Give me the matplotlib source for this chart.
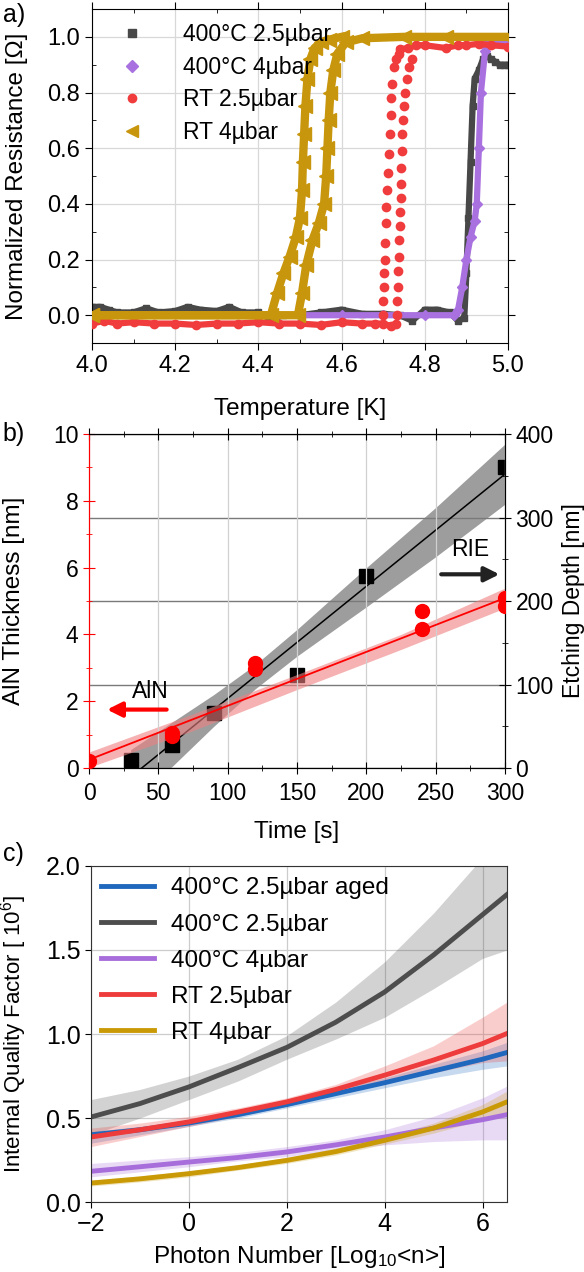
#!/usr/bin/env python3
import numpy as np
import matplotlib
matplotlib.use('Agg')
import matplotlib.pyplot as plt
from matplotlib.ticker import MultipleLocator

plt.rcParams['font.family'] = ['Liberation Sans', 'DejaVu Sans']
plt.rcParams['mathtext.fontset'] = 'custom'
plt.rcParams['mathtext.rm'] = 'Liberation Sans'
plt.rcParams['mathtext.it'] = 'Liberation Sans'

# ---- panel a: R(T) curves ----
gray_T = [4.00, 4.02, 4.04, 4.06, 4.10, 4.13, 4.16, 4.20, 4.23, 4.26, 4.30,
          4.33, 4.36, 4.40, 4.43, 4.46, 4.50, 4.55, 4.60, 4.65, 4.70, 4.74,
          4.77, 4.80, 4.83, 4.86, 4.88, 4.895, 4.90, 4.905, 4.91, 4.915,
          4.92, 4.93, 4.94, 4.95, 4.96, 4.97, 4.98, 4.99, 5.00]
gray_R = [0.03, 0.03, 0.02, 0.01, 0.01, 0.025, 0.01, 0.015, 0.03, 0.02, 0.015,
          0.03, 0.01, 0.01, -0.015, 0.0, 0.0, 0.01, 0.02, 0.005, 0.005, 0.0,
          -0.02, 0.02, 0.02, 0.01, -0.02, -0.01, 0.15, 0.35, 0.55, 0.75,
          0.85, 0.88, 0.92, 0.93, 0.92, 0.91, 0.90, 0.90, 0.90]

purple_T = [4.50, 4.60, 4.70, 4.80, 4.87, 4.88, 4.89, 4.90, 4.91, 4.92,
            4.925, 4.93, 4.935, 4.945, 4.95, 4.97, 5.00]
purple_R = [0.0, 0.0, 0.0, 0.0, 0.0, 0.02, 0.1, 0.2, 0.28, 0.34,
            0.4, 0.6, 0.8, 0.95, 0.98, 0.98, 0.98]

red_low_T = [4.00, 4.03, 4.06, 4.10, 4.15, 4.20, 4.25, 4.30, 4.35, 4.40,
             4.45, 4.50, 4.55, 4.60, 4.65, 4.68, 4.70, 4.72, 4.73]
red_low_R = [-0.03, -0.02, -0.03, -0.025, -0.03, -0.03, -0.035, -0.03, -0.03,
             -0.025, -0.03, -0.03, -0.035, -0.025, -0.03, -0.03, -0.03, -0.04,
             -0.03]
red_up1_T = [4.700, 4.700, 4.701, 4.702, 4.704, 4.705, 4.707, 4.708, 4.710,
             4.712, 4.714, 4.716, 4.718, 4.720, 4.722, 4.725, 4.730, 4.737]
red_up1_R = [0.0, 0.05, 0.10, 0.15, 0.20, 0.26, 0.33, 0.39, 0.45, 0.51, 0.58,
             0.65, 0.72, 0.78, 0.83, 0.89, 0.92, 0.94]
red_up2_T = [4.733, 4.734, 4.735, 4.736, 4.738, 4.739, 4.740, 4.741, 4.742,
             4.743, 4.744, 4.745, 4.746, 4.748, 4.750, 4.753, 4.757, 4.763,
             4.770]
red_up2_R = [0.0, 0.05, 0.10, 0.16, 0.21, 0.27, 0.32, 0.37, 0.42, 0.47, 0.53,
             0.59, 0.65, 0.70, 0.75, 0.80, 0.85, 0.89, 0.92]
red_high_T = [4.74, 4.76, 4.78, 4.80, 4.85, 4.88, 4.90, 4.93, 4.96, 5.00]
red_high_R = [0.955, 0.96, 0.97, 0.97, 0.96, 0.97, 0.97, 0.975, 0.97, 0.965]

gold1_T = [4.00, 4.43, 4.445, 4.46, 4.475, 4.49, 4.50, 4.505, 4.507, 4.51,
           4.513, 4.518, 4.525, 4.535, 4.55, 4.57, 4.60]
gold1_R = [0.0, 0.0, 0.08, 0.15, 0.21, 0.28, 0.35, 0.45, 0.55, 0.65, 0.75,
           0.85, 0.92, 0.96, 0.98, 0.99, 1.0]
gold2_T = [4.00, 4.495, 4.505, 4.515, 4.53, 4.545, 4.558, 4.563, 4.566,
           4.569, 4.573, 4.58, 4.59, 4.61, 4.65, 4.75, 4.85, 5.00]
gold2_R = [0.0, 0.0, 0.08, 0.18, 0.27, 0.33, 0.40, 0.50, 0.60, 0.70, 0.80,
           0.88, 0.94, 0.98, 0.995, 1.0, 1.0, 1.0]

# ---- panel b: thickness / etching depth vs time ----
rie_t = [30, 60, 90, 150, 200, 300]
rie_depth = [10, 28, 66, 112, 230, 360]
rie_fit_t = [38, 300]
rie_fit_d = [0, 352]
rie_band_t = [30, 60, 90, 120, 150, 200, 250, 300]
rie_band_hi = [22, 55, 88, 124, 166, 240, 312, 388]
rie_band_lo = [-40, 2, 50, 95, 134, 193, 253, 316]

aln_t = [0, 60, 60, 120, 120, 240, 240, 300, 300]
aln_nm = [0.2, 0.95, 1.05, 2.95, 3.15, 4.15, 4.7, 4.85, 5.1]
aln_fit_t = [0, 300]
aln_fit_nm = [0.25, 5.09]
aln_band_t = [0, 75, 150, 225, 300]
aln_band_hi = [0.48, 1.62, 2.80, 4.00, 5.39]
aln_band_lo = [0.02, 1.12, 2.35, 3.55, 4.79]

# ---- panel c: quality factor vs photon number ----
photon = [-2, -1, 0, 1, 2, 3, 4, 5, 6, 6.5]
q_series = {
    '400°C 2.5µbar aged': dict(
        q=[0.40, 0.43, 0.47, 0.52, 0.58, 0.645, 0.71, 0.78, 0.85, 0.89],
        hi=[0.42, 0.45, 0.49, 0.54, 0.60, 0.67, 0.74, 0.82, 0.90, 0.95],
        lo=[0.35, 0.40, 0.45, 0.50, 0.56, 0.62, 0.68, 0.74, 0.79, 0.81],
        color='#1f68bd'),
    '400°C 2.5µbar': dict(
        q=[0.506, 0.586, 0.685, 0.80, 0.92, 1.07, 1.25, 1.47, 1.71, 1.83],
        hi=[0.61, 0.67, 0.75, 0.85, 0.99, 1.19, 1.43, 1.72, 2.05, 2.25],
        lo=[0.40, 0.50, 0.61, 0.72, 0.85, 0.97, 1.10, 1.27, 1.45, 1.50],
        color='#4d4d4d'),
    '400°C 4µbar': dict(
        q=[0.183, 0.21, 0.238, 0.265, 0.298, 0.34, 0.387, 0.44, 0.49, 0.52],
        hi=[0.23, 0.25, 0.27, 0.295, 0.33, 0.37, 0.43, 0.51, 0.62, 0.69],
        lo=[0.15, 0.18, 0.21, 0.245, 0.27, 0.31, 0.34, 0.36, 0.37, 0.37],
        color='#a76ddb'),
    'RT 2.5µbar': dict(
        q=[0.387, 0.43, 0.477, 0.535, 0.596, 0.67, 0.755, 0.845, 0.943, 1.003],
        hi=[0.44, 0.47, 0.51, 0.56, 0.62, 0.70, 0.81, 0.93, 1.10, 1.19],
        lo=[0.33, 0.39, 0.45, 0.51, 0.57, 0.64, 0.71, 0.77, 0.83, 0.84],
        color='#ee3b3b'),
    'RT 4µbar': dict(
        q=[0.113, 0.138, 0.169, 0.205, 0.248, 0.30, 0.367, 0.44, 0.536, 0.596],
        hi=[0.13, 0.155, 0.185, 0.22, 0.265, 0.32, 0.39, 0.47, 0.58, 0.66],
        lo=[0.095, 0.12, 0.15, 0.19, 0.23, 0.28, 0.345, 0.41, 0.49, 0.53],
        color='#c99a06'),
}

GRAY = '#484848'
PURPLE = '#a970e0'
RED = '#f03c3c'
GOLD = '#c8960c'

fig = plt.figure(figsize=(5.84, 12.72), dpi=100)

# ================= a) =================
ax = fig.add_axes([0.1575, 0.7303, 0.7123, 0.2626])
ax.plot(gray_T, gray_R, color=GRAY, lw=4.5, marker='s', ms=5, zorder=2)
ax.plot(purple_T, purple_R, color=PURPLE, lw=4.5, marker='D', ms=5, zorder=3)
ax.plot(red_low_T, red_low_R, color=RED, lw=4.5, marker='o', ms=6, zorder=4)
ax.plot(red_high_T, red_high_R, color=RED, lw=4.5, marker='o', ms=6, zorder=4)
ax.plot(red_up1_T, red_up1_R, color=RED, ls='none', marker='o', ms=6, zorder=4)
ax.plot(red_up2_T, red_up2_R, color=RED, ls='none', marker='o', ms=6, zorder=4)
ax.plot(gold1_T, gold1_R, color=GOLD, lw=6, marker='<', ms=10, zorder=5)
ax.plot(gold2_T, gold2_R, color=GOLD, lw=6, marker='<', ms=10, zorder=5)

# legend handles: markers only
h = [ax.plot([], [], ls='none', marker=m, color=c, ms=ms)[0]
     for m, c, ms in [('s', GRAY, 6), ('D', PURPLE, 6), ('o', RED, 6),
                      ('<', GOLD, 8)]]
ax.legend(h, ['400°C 2.5µbar', '400°C 4µbar', 'RT 2.5µbar', 'RT 4µbar'],
          loc='upper left', frameon=False, fontsize=16.5, labelspacing=0.42,
          handletextpad=1.2, borderaxespad=0.0, bbox_to_anchor=(0.02, 0.985))

ax.set_xlim(4.0, 5.0)
ax.set_ylim(-0.1, 1.1)
ax.set_xticks(np.arange(4.0, 5.01, 0.2))
ax.set_yticks(np.arange(0.0, 1.01, 0.2))
ax.xaxis.set_minor_locator(MultipleLocator(0.1))
ax.yaxis.set_minor_locator(MultipleLocator(0.1))
ax.grid(True, color='#d8d8d8', lw=0.9, zorder=0)
ax.set_axisbelow(True)
ax.tick_params(which='both', top=True, right=True, labelsize=17)
ax.tick_params(which='major', direction='out', length=5)
ax.tick_params(which='minor', direction='in', length=3)
ax.set_xlabel('Temperature [K]', fontsize=17.5)
ax.set_ylabel('Normalized Resistance [Ω]', fontsize=17.5)
ax.xaxis.set_label_coords(0.5, -0.165)
ax.yaxis.set_label_coords(-0.155, 0.5)
fig.text(0.005, 0.998, 'a)', fontsize=18, va='top')

# ================= b) =================
axb = fig.add_axes([0.1524, 0.3962, 0.7123, 0.2626])
axr = axb.twinx()

axr.fill_between(rie_band_t, rie_band_lo, rie_band_hi, color='#8c8c8c',
                 alpha=0.85, lw=0, zorder=1)
axr.plot(rie_fit_t, rie_fit_d, color='black', lw=1.1, zorder=2)
axr.plot(rie_t, rie_depth, ls='none', marker='s', ms=10, color='black',
         zorder=3)
axr.set_ylim(0, 400)
axr.set_yticks([0, 100, 200, 300, 400])
axr.yaxis.set_minor_locator(MultipleLocator(50))
axr.grid(True, axis='y', color='#7a7a7a', lw=1.0)
axr.tick_params(which='both', direction='inout', labelsize=16.5)
axr.tick_params(which='major', length=8)
axr.tick_params(which='minor', length=5)
axr.set_ylabel('Etching Depth [nm]', fontsize=16.5)
axr.yaxis.set_label_coords(1.138, 0.5)

axb.fill_between(aln_band_t, aln_band_lo, aln_band_hi, color='#f08080',
                 alpha=0.6, lw=0, zorder=1)
axb.plot(aln_fit_t, aln_fit_nm, color='red', lw=1.3, zorder=2)
axb.set_zorder(axr.get_zorder() + 1)
axb.patch.set_visible(False)
axb.plot(aln_t, aln_nm, ls='none', marker='o', ms=10, color='red', zorder=3)

axb.set_xlim(0, 300)
axb.set_ylim(0, 10)
axb.set_xticks(np.arange(0, 301, 50))
axb.xaxis.set_minor_locator(MultipleLocator(25))
axb.set_yticks(np.arange(0, 11, 2))
axb.yaxis.set_minor_locator(MultipleLocator(1))
axb.grid(True, axis='x', color='#d0d0d0', lw=0.9)
axr.set_xlim(0, 300)
axb.tick_params(which='both', direction='inout', labelsize=16.5, top=True)
axb.tick_params(axis='x', which='major', pad=6)
axb.tick_params(axis='y', which='both', color='red')
axb.tick_params(which='major', length=8)
axb.tick_params(which='minor', length=5)
axb.spines['left'].set_color('red')
axr.spines['left'].set_color('red')
axb.set_xlabel('Time [s]', fontsize=17.5)
axb.set_ylabel('AlN Thickness [nm]', fontsize=17.5)
axb.xaxis.set_label_coords(0.5, -0.16)
axb.yaxis.set_label_coords(-0.155, 0.5)

axb.annotate('', xy=(11, 1.75), xytext=(58, 1.75),
             arrowprops=dict(arrowstyle='-|>', color='red', lw=3,
                             mutation_scale=22))
axb.text(44, 2.3, 'AlN', fontsize=16.5, ha='center', va='center')
axb.annotate('', xy=(298, 5.8), xytext=(252, 5.8),
             arrowprops=dict(arrowstyle='-|>', color='#222222', lw=3,
                             mutation_scale=22))
axb.text(275, 6.55, 'RIE', fontsize=16.5, ha='center', va='center')
fig.text(0.005, 0.668, 'b)', fontsize=18, va='top')

# ================= c) =================
axc = fig.add_axes([0.1558, 0.0550, 0.7123, 0.2642])
for name, s in q_series.items():
    axc.fill_between(photon, s['lo'], s['hi'], color=s['color'], alpha=0.25,
                     lw=0)
for name, s in q_series.items():
    axc.plot(photon, s['q'], color=s['color'], lw=3.5, label=name)
axc.legend(loc='upper left', frameon=False, fontsize=17.5, handlelength=2.2,
           handletextpad=0.7, labelspacing=0.58, borderaxespad=0.0,
           bbox_to_anchor=(0.0, 0.995))
axc.set_xlim(-2, 6.5)
axc.set_ylim(0, 2.0)
axc.set_xticks([-2, 0, 2, 4, 6])
axc.set_yticks([0.0, 0.5, 1.0, 1.5, 2.0])
axc.grid(True, color='#cccccc', lw=0.9)
axc.set_axisbelow(True)
axc.tick_params(labelsize=18, direction='out', length=4)
for sp in axc.spines.values():
    sp.set_color('#333333')
axc.set_xlabel('Photon Number [Log$_{10}$<n>]', fontsize=17.5)
axc.set_ylabel('Internal Quality Factor [ 10$^{6}$]', fontsize=16)
axc.xaxis.set_label_coords(0.5, -0.125)
axc.yaxis.set_label_coords(-0.148, 0.5)
fig.text(0.005, 0.338, 'c)', fontsize=18, va='top')

fig.savefig('out.png', dpi=100)
plt.close(fig)
